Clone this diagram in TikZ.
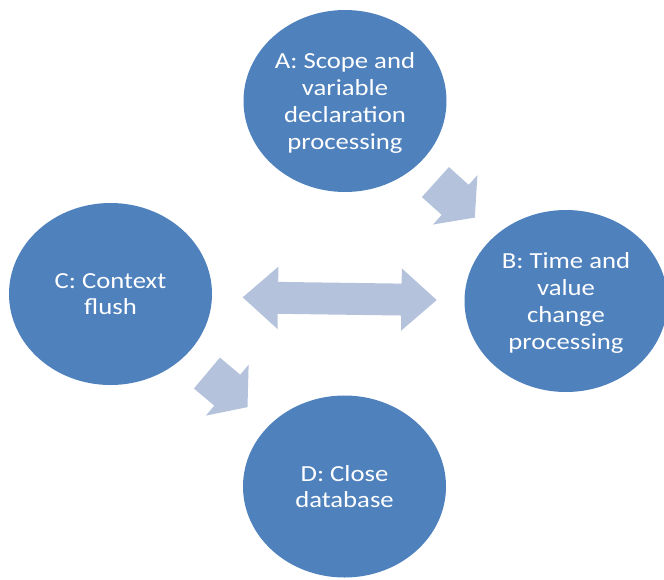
\documentclass[tikz,border=0pt]{standalone}
\usepackage{fontspec}
\setmainfont{Carlito}[FakeStretch=1.16]
\usetikzlibrary{shapes.geometric,shapes.arrows}
\definecolor{stageblue}{RGB}{79,129,189}
\definecolor{arrowblue}{RGB}{180,194,220}

\begin{document}
\begin{tikzpicture}[x=1pt, y=-1pt]

	\tikzstyle{stage} = [ellipse, fill=stageblue, text=white, align=center, inner sep=0pt, text depth=0pt, minimum width=203pt, minimum height=182pt, font=\fontsize{23}{26.7}\selectfont]
	\tikzstyle{flow_arrow} = [single arrow, fill=arrowblue, inner xsep=0pt, inner ysep=20pt, minimum height=53pt, single arrow head extend=13pt, single arrow tip angle=103]
	\tikzstyle{swap_arrow} = [double arrow, fill=arrowblue, inner xsep=0pt, inner ysep=15.75pt, minimum height=194pt, double arrow head extend=15.25pt, double arrow tip angle=83]

	\useasboundingbox (0,0) rectangle (664,579);

%------------------------------------------------------------
	\node[stage] (A) at (345,101) {A: Scope and\\variable\\declaration\\processing};
	\node[stage] (B) at (566,301) {B: Time and\\value\\change\\processing};
	\node[stage] (C) at (110.5,294) {C: Context\\flush};
	\node[stage] (D) at (344.5,486.5) {D: Close\\database};

%------------------------------------------------------------
	\node[flow_arrow, rotate=-42, anchor=tip] (AtoB) at (475,217.7) {};
	\node[flow_arrow, rotate=-40, anchor=tip] (CtoD) at (247.7,407.3) {};
	\node[swap_arrow, rotate=-0.8] (CtoB) at (339.7,298.7) {};

\end{tikzpicture}
\end{document}
